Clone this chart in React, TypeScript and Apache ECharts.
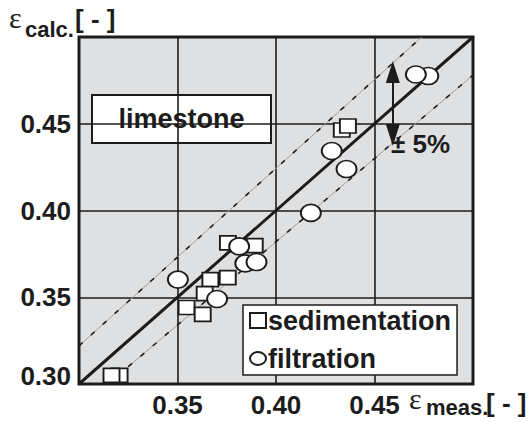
import React, { useEffect, useRef } from 'react';
import * as echarts from 'echarts';

// ---- data ----
const sedimentation: [number, number][] = [
  [0.3206, 0.305],
  [0.3165, 0.305],
  [0.3756, 0.3813],
  [0.3892, 0.3798],
  [0.3667, 0.3602],
  [0.3755, 0.3613],
  [0.3638, 0.3521],
  [0.3546, 0.3441],
  [0.3628, 0.3401],
  [0.4334, 0.4464],
  [0.4365, 0.4487],
];
const filtration: [number, number][] = [
  [0.3502, 0.3602],
  [0.3701, 0.349],
  [0.3813, 0.3793],
  [0.3844, 0.3695],
  [0.3901, 0.3703],
  [0.4177, 0.3986],
  [0.4283, 0.4343],
  [0.4358, 0.4239],
  [0.4773, 0.4775],
  [0.471, 0.4784],
];
const parityLine: [number, number][] = [
  [0.3, 0.3],
  [0.5, 0.5],
];
const upperBand: [number, number][] = [
  [0.3, 0.322],
  [0.474, 0.5],
];
const lowerBand: [number, number][] = [
  [0.325, 0.31],
  [0.5, 0.478],
];
const arrowX = 0.4593;
const arrowEnds = [0.4435, 0.4798];
const xTickLabels = ['0.35', '0.40', '0.45'];
const yTickLabels = ['0.30', '0.35', '0.40', '0.45'];

const FONT = '"Liberation Sans", Arial, Helvetica, sans-serif';
const SERIF = '"Liberation Serif", "DejaVu Serif", serif';
const INK = '#1c1c1c';
const ELLIPSE = 'path://M0,8A10,8 0 1,1 20,8A10,8 0 1,1 0,8Z';

export default function App() {
  const ref = useRef<HTMLDivElement>(null);
  useEffect(() => {
    if (!ref.current) return;
    const chart = echarts.init(ref.current, null, { renderer: 'svg' });
    const labelStyle = {
      fontSize: 26,
      fontWeight: 'bold' as const,
      color: INK,
      fontFamily: FONT,
    };
    const bandSeries = (name: string, data: [number, number][]) => [
      {
        name: name + 'Gray',
        type: 'line',
        data,
        symbol: 'none',
        silent: true,
        z: 2,
        lineStyle: { color: '#9c9c9c', width: 1 },
      },
      {
        name: name + 'Dash',
        type: 'line',
        data,
        symbol: 'none',
        silent: true,
        z: 2,
        lineStyle: { color: INK, width: 1.6, type: [5, 11] },
      },
    ];
    const option: any = {
      animation: false,
      grid: {
        left: 79,
        right: 56,
        top: 37,
        bottom: 38,
        show: true,
        backgroundColor: '#dfe0e2',
        borderColor: INK,
        borderWidth: 3,
      },
      xAxis: {
        type: 'value',
        min: 0.3,
        max: 0.5,
        interval: 0.05,
        axisLine: { show: false },
        axisTick: { show: false },
        splitLine: { lineStyle: { color: INK, width: 1.6 } },
        axisLabel: {
          ...labelStyle,
          margin: 8,
          formatter: (v: number) => {
            const s = v.toFixed(2);
            return xTickLabels.includes(s) ? s : '';
          },
        },
      },
      yAxis: {
        type: 'value',
        min: 0.3,
        max: 0.5,
        interval: 0.05,
        axisLine: { show: false },
        axisTick: { show: false },
        splitLine: { lineStyle: { color: INK, width: 1.6 } },
        axisLabel: {
          ...labelStyle,
          margin: 8,
          formatter: (v: number) => {
            const s = v.toFixed(2);
            if (!yTickLabels.includes(s)) return '';
            return s === '0.30' ? '{low|' + s + '}' : s;
          },
          rich: {
            low: { ...labelStyle, padding: [0, 0, 16, 0] },
          },
        },
      },
      legend: {
        data: [
          { name: 'sedimentation', icon: 'rect' },
          { name: 'filtration', icon: ELLIPSE },
        ],
        orient: 'vertical',
        left: 243,
        top: 305,
        padding: [2, 6, 3, 6],
        itemGap: 11,
        itemWidth: 16,
        itemHeight: 15,
        backgroundColor: '#fff',
        borderColor: INK,
        borderWidth: 1.5,
        selectedMode: false,
        textStyle: { fontSize: 27, fontWeight: 'bold', color: INK, fontFamily: FONT, padding: [0, 0, 0, -3] },
      },
      series: [
        ...bandSeries('upper', upperBand),
        ...bandSeries('lower', lowerBand),
        {
          name: 'parity',
          type: 'line',
          data: parityLine,
          symbol: 'none',
          silent: true,
          z: 3,
          lineStyle: { color: INK, width: 3 },
          markLine: {
            silent: true,
            symbol: ['triangle', 'triangle'],
            symbolSize: [14, 22],
            label: { show: false },
            lineStyle: { color: INK, width: 2, type: 'solid' },
            data: [[{ coord: [arrowX, arrowEnds[0]] }, { coord: [arrowX, arrowEnds[1]] }]],
          },
        },
        {
          name: 'sedimentation',
          type: 'scatter',
          data: sedimentation,
          symbol: 'rect',
          symbolSize: [16, 14],
          z: 4,
          itemStyle: { color: '#fff', borderColor: INK, borderWidth: 1.8, opacity: 1 },
        },
        {
          name: 'filtration',
          type: 'scatter',
          data: filtration,
          symbol: ELLIPSE,
          symbolSize: [20, 17],
          z: 5,
          itemStyle: { color: '#fff', borderColor: INK, borderWidth: 1.8, opacity: 1 },
        },
      ],
      graphic: [
        {
          type: 'group',
          z: 10,
          children: [
            {
              type: 'rect',
              shape: { x: 92, y: 95, width: 179, height: 48 },
              style: { fill: '#fff', stroke: INK, lineWidth: 2 },
            },
            {
              type: 'text',
              x: 181.5,
              y: 119,
              style: {
                text: 'limestone',
                fontSize: 27,
                fontWeight: 'bold',
                fontFamily: FONT,
                fill: INK,
                align: 'center',
                verticalAlign: 'middle',
              },
            },
          ],
        },
        {
          type: 'text',
          z: 1,
          x: 391,
          y: 144,
          style: {
            text: '± 5%',
            fontSize: 26,
            fontWeight: 'bold',
            fontFamily: FONT,
            fill: INK,
            align: 'left',
            verticalAlign: 'middle',
          },
        },
        // y-axis title
        {
          type: 'text',
          z: 10,
          x: 9,
          y: 17,
          style: { text: 'ε', fontSize: 30, fontFamily: SERIF, fill: INK, align: 'left', verticalAlign: 'middle' },
        },
        {
          type: 'text',
          z: 10,
          x: 25,
          y: 29.5,
          style: { text: 'calc.', fontSize: 22, fontWeight: 'bold', fontFamily: FONT, fill: INK, align: 'left', verticalAlign: 'middle' },
        },
        {
          type: 'text',
          z: 10,
          x: 75,
          y: 18.5,
          style: { text: '[ - ]', fontSize: 26, fontWeight: 'bold', fontFamily: FONT, fill: INK, align: 'left', verticalAlign: 'middle' },
        },
        // x-axis title
        {
          type: 'text',
          z: 10,
          x: 409,
          y: 398,
          style: { text: 'ε', fontSize: 30, fontFamily: SERIF, fill: INK, align: 'left', verticalAlign: 'middle' },
        },
        {
          type: 'text',
          z: 10,
          x: 426,
          y: 407.5,
          style: { text: 'meas.', fontSize: 22, fontWeight: 'bold', fontFamily: FONT, fill: INK, align: 'left', verticalAlign: 'middle' },
        },
        {
          type: 'text',
          z: 10,
          x: 486,
          y: 402.5,
          style: { text: '[ - ]', fontSize: 26, fontWeight: 'bold', fontFamily: FONT, fill: INK, align: 'left', verticalAlign: 'middle' },
        },
      ],
    };
    chart.setOption(option);
    return () => chart.dispose();
  }, []);
  return (
    <div
      ref={ref}
      style={{ position: 'absolute', left: 0, top: 0, width: 529, height: 422, background: '#fff' }}
    />
  );
}
